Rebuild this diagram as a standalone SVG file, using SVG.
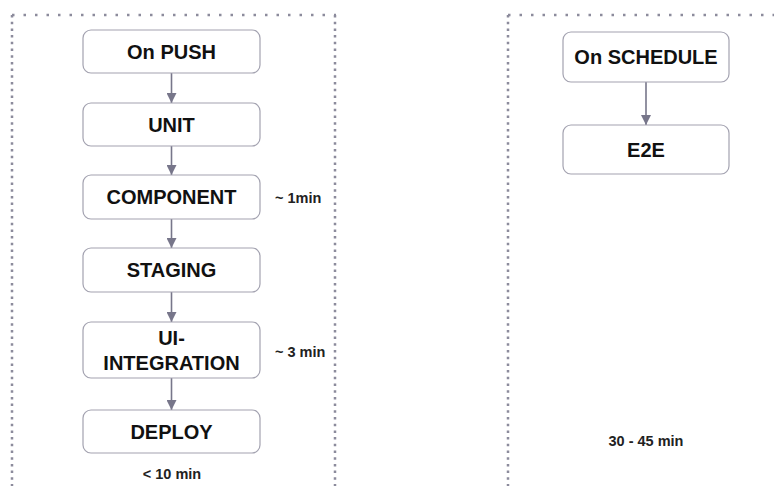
<svg xmlns="http://www.w3.org/2000/svg" width="774" height="486" viewBox="0 0 774 486">
<style>
.box{fill:#fff;stroke:#a3a2b0;stroke-width:1.2}
.t{font-family:"Liberation Sans",Arial,sans-serif;font-weight:bold;font-size:20px;fill:#111;text-anchor:middle}
.s{font-family:"Liberation Sans",Arial,sans-serif;font-weight:bold;font-size:14.5px;fill:#222}
.h{stroke:#8c8b9c;stroke-width:2.5;stroke-dasharray:2.5 9;fill:none}
.v{stroke:#8c8b9c;stroke-width:2.5;stroke-dasharray:2.5 4.2;fill:none}
.e{stroke:#77768a;stroke-width:1.6;fill:none;marker-end:url(#ah)}
</style>
<defs>
<marker id="ah" viewBox="0 0 10 10" refX="10" refY="5" markerWidth="10" markerHeight="10" markerUnits="userSpaceOnUse" orient="auto">
<path d="M0,0 L10,5 L0,10 z" fill="#77768a"/>
</marker>
</defs>
<rect width="774" height="486" fill="#fff"/>
<g id="cluster-push">
<line class="h" x1="12" y1="15" x2="336" y2="15"/>
<line class="v" x1="12" y1="15" x2="12" y2="486"/>
<line class="v" x1="335" y1="15" x2="335" y2="486"/>
<text class="s" x="172" y="479" text-anchor="middle">&lt; 10 min</text>
<text class="s" x="275" y="203">~ 1min</text>
<text class="s" x="275" y="357">~ 3 min</text>
</g>
<g id="cluster-schedule">
<line class="h" x1="508" y1="15" x2="774" y2="15"/>
<line class="v" x1="508" y1="15" x2="508" y2="486"/>
<text class="s" x="646" y="446" text-anchor="middle">30 - 45 min</text>
</g>
<g id="connectors">
<line class="e" x1="171.5" y1="73" x2="171.5" y2="103"/>
<line class="e" x1="171.5" y1="146" x2="171.5" y2="175"/>
<line class="e" x1="171.5" y1="219" x2="171.5" y2="248"/>
<line class="e" x1="171.5" y1="292" x2="171.5" y2="322"/>
<line class="e" x1="171.5" y1="378" x2="171.5" y2="410"/>
<line class="e" x1="646" y1="82" x2="646" y2="125"/>
</g>
<g id="on-push"><rect class="box" x="83" y="30" width="177" height="43" rx="8"/><text class="t" x="171.5" y="59">On PUSH</text></g>
<g id="unit"><rect class="box" x="83" y="103" width="177" height="43" rx="8"/><text class="t" x="171.5" y="132">UNIT</text></g>
<g id="component"><rect class="box" x="83" y="175" width="177" height="44" rx="8"/><text class="t" x="171.5" y="204">COMPONENT</text></g>
<g id="staging"><rect class="box" x="83" y="248" width="177" height="44" rx="8"/><text class="t" x="171.5" y="277">STAGING</text></g>
<g id="ui-integration"><rect class="box" x="83" y="322" width="177" height="56" rx="8"/><text class="t" x="171.5" y="345">UI-</text><text class="t" x="171.5" y="370">INTEGRATION</text></g>
<g id="deploy"><rect class="box" x="83" y="410" width="177" height="43" rx="8"/><text class="t" x="171.5" y="439">DEPLOY</text></g>
<g id="on-schedule"><rect class="box" x="563" y="32" width="166" height="50" rx="8"/><text class="t" x="646" y="64">On SCHEDULE</text></g>
<g id="e2e"><rect class="box" x="563" y="125" width="166" height="49" rx="8"/><text class="t" x="646" y="157">E2E</text></g>
</svg>
